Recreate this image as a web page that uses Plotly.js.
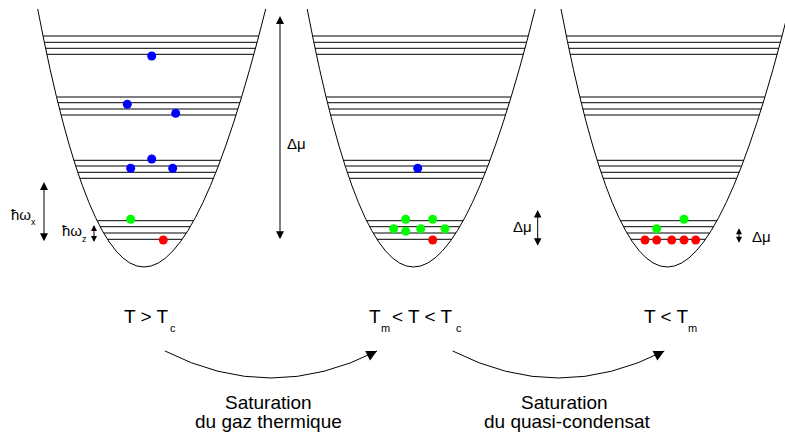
<!DOCTYPE html>
<html>
<head>
<meta charset="utf-8">
<script src="https://cdn.plot.ly/plotly-3.0.1.min.js"></script>
<style>html,body{margin:0;padding:0;background:#fff;}#chart{width:785px;height:433px;}</style>
</head>
<body>
<div id="chart"></div>
<script>
// ---- diagram values (pixel-like data coordinates, y downwards) ----
const panelOffsets = [0, 269.5, 523.3];
const bowlLeft = [37.7, 9];
const bowlCtrl = [136.3, 525];
const bowlRight = [265.7, 9];
const levelY = [36, 42.3, 48.3, 54.3, 97, 102.7, 109, 115, 160.3, 166, 172.3, 178.3, 220.7, 226.7, 233, 239.3];

const blueX = [151.7, 127.3, 175.7, 151.7, 130.7, 172.7, 417.7];
const blueY = [56, 104.3, 113.3, 159, 168.3, 168.3, 168.3];
const greenX = [130.7, 405.7, 432.7, 393.7, 405.7, 420.7, 445, 684, 656.7];
const greenY = [219.3, 219.3, 219.3, 228.7, 231.3, 228.7, 228.7, 219.3, 228.7];
const redX = [163.3, 432.7, 645, 656.7, 671.7, 684, 695.7];
const redY = [240, 240, 240, 240, 240, 240, 240];

const dblArrowX = [280, 44, 94, 537.7, 739];
const dblArrowTop = [16, 182, 225, 210, 228.3];
const dblArrowBottom = [240.7, 242.7, 243.5, 247.3, 244.3];
const dblArrowSize = [1.6, 1.6, 1.2, 1.5, 1.2];

const curveStart = [[165, 351], [452.7, 351]];
const curveCtrl = [[271, 405], [558.5, 405]];
const curveEnd = [[377, 351], [664.3, 351]];

const textLabels = ['T > T', 'c', 'T', 'm', '< T < T', 'c', 'T < T', 'm',
  'Saturation', 'du gaz thermique', 'Saturation', 'du quasi-condensat',
  'Δμ', 'Δμ', 'Δμ', 'ħω', 'x', 'ħω', 'z'];
const textX = [122.7, 168.5, 368.3, 380, 391, 455, 642.7, 687,
  268, 268, 564.5, 567.8, 286, 511.7, 750.7, 9.5, 29.5, 60.5, 80.5];
const textBaseline = [323.3, 331.7, 323.3, 331.7, 323.3, 331.7, 323.3, 331.7,
  409.3, 427.7, 409.3, 427.7, 148.3, 231.7, 241.7, 219.5, 225.5, 236, 242.5];
const textSize = [19, 11, 19, 11, 19, 11, 19, 11, 19, 19, 19, 19, 15, 15, 15, 15, 9, 15, 9];
const textAlign = ['left','left','left','left','left','left','left','left',
  'center','center','center','center','left','left','left','left','left','left','left'];

// ---- helpers ----
function bezierX(t, off) {
  return (1 - t) * (1 - t) * (bowlLeft[0] + off) + 2 * (1 - t) * t * (bowlCtrl[0] + off) + t * t * (bowlRight[0] + off);
}
function levelEnds(y, off) {
  const s = (y - bowlLeft[1]) / (2 * (bowlCtrl[1] - bowlLeft[1]));
  const r = Math.sqrt(1 - 4 * s);
  return [bezierX((1 - r) / 2, off), bezierX((1 + r) / 2, off)];
}

const FONT = 'Liberation Sans, Arial, sans-serif';
const traces = [];
const shapes = [];
const annotations = [];

panelOffsets.forEach(function (off) {
  shapes.push({
    type: 'path', xref: 'x', yref: 'y',
    path: 'M ' + (bowlLeft[0] + off) + ',' + bowlLeft[1] + ' Q ' + (bowlCtrl[0] + off) + ',' + bowlCtrl[1] + ' ' + (bowlRight[0] + off) + ',' + bowlRight[1],
    line: {color: '#000', width: 1}
  });
  const lx = [], ly = [];
  levelY.forEach(function (y) {
    const e = levelEnds(y, off);
    lx.push(e[0], e[1], null);
    ly.push(y, y, null);
  });
  traces.push({x: lx, y: ly, mode: 'lines', line: {color: '#000', width: 1}, hoverinfo: 'skip'});
});

traces.push({x: blueX, y: blueY, mode: 'markers', marker: {color: '#0000ff', size: 9}, hoverinfo: 'skip'});
traces.push({x: greenX, y: greenY, mode: 'markers', marker: {color: '#00ff00', size: 9}, hoverinfo: 'skip'});
traces.push({x: redX, y: redY, mode: 'markers', marker: {color: '#ff0000', size: 9}, hoverinfo: 'skip'});

dblArrowX.forEach(function (x, i) {
  annotations.push({
    x: x, y: dblArrowTop[i], ax: x, ay: dblArrowBottom[i],
    xref: 'x', yref: 'y', axref: 'x', ayref: 'y', text: '',
    showarrow: true, arrowside: 'end+start', arrowhead: 2, startarrowhead: 2,
    arrowsize: dblArrowSize[i], startarrowsize: dblArrowSize[i], arrowwidth: 1,
    arrowcolor: '#000', standoff: 0, startstandoff: 0
  });
});

curveStart.forEach(function (p0, i) {
  const p1 = curveCtrl[i], p2 = curveEnd[i];
  shapes.push({
    type: 'path', xref: 'x', yref: 'y',
    path: 'M ' + p0[0] + ',' + p0[1] + ' Q ' + p1[0] + ',' + p1[1] + ' ' + p2[0] + ',' + p2[1],
    line: {color: '#000', width: 1}
  });
  const dx = p2[0] - p1[0], dy = p2[1] - p1[1], len = Math.sqrt(dx * dx + dy * dy);
  annotations.push({
    x: p2[0], y: p2[1], ax: p2[0] - 10 * dx / len, ay: p2[1] - 10 * dy / len,
    xref: 'x', yref: 'y', axref: 'x', ayref: 'y', text: '',
    showarrow: true, arrowhead: 2, arrowsize: 2.1, arrowwidth: 1, arrowcolor: '#000', standoff: 0
  });
});

textLabels.forEach(function (t, i) {
  annotations.push({
    x: textX[i], y: textBaseline[i] - 0.347 * textSize[i],
    xref: 'x', yref: 'y', text: t, showarrow: false,
    xanchor: textAlign[i], yanchor: 'middle', borderpad: 0,
    font: {family: FONT, size: textSize[i], color: '#000'}
  });
});

const layout = {
  width: 785, height: 433,
  margin: {l: 0, r: 0, t: 0, b: 0, pad: 0},
  paper_bgcolor: '#fff', plot_bgcolor: '#fff',
  showlegend: false,
  xaxis: {range: [0, 785], visible: false, fixedrange: true},
  yaxis: {range: [433, 0], visible: false, fixedrange: true},
  shapes: shapes,
  annotations: annotations,
  font: {family: FONT}
};

Plotly.newPlot('chart', traces, layout, {staticPlot: true, displayModeBar: false});
</script>
</body>
</html>
